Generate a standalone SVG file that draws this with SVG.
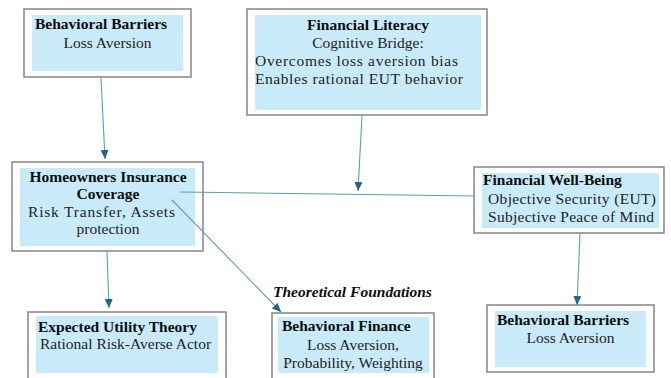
<svg xmlns="http://www.w3.org/2000/svg" width="671" height="378" viewBox="0 0 671 378">
  <defs>
    <marker id="arrow" markerUnits="userSpaceOnUse" markerWidth="9" markerHeight="8" refX="9" refY="4" orient="auto">
      <path d="M0,0 L9,4 L0,8 z" fill="#1f6586"/>
    </marker>
    <style>
      .frame { fill: #ffffff; stroke: #858585; stroke-width: 1.5; }
      .fill { fill: #c9ebf9; stroke: none; }
      .t { font-family: "Liberation Serif", "Times New Roman", serif; font-size: 15.5px; fill: #222222; }
      .b { font-weight: bold; fill: #0d0d0d; }
      .c { text-anchor: middle; }
      .link { stroke: #5d9db7; stroke-width: 1.1; fill: none; }
      .arr { marker-end: url(#arrow); }
    </style>
  </defs>

  <rect width="671" height="378" fill="#ffffff"/>

  <!-- top-left: behavioral barriers -->
  <g id="barriers-top">
    <rect class="frame" x="24" y="9" width="167" height="68"/>
    <rect class="fill" x="32" y="15" width="151" height="56"/>
    <text class="t b" x="35" y="29">Behavioral Barriers</text>
    <text class="t c" x="107.5" y="48">Loss Aversion</text>
  </g>

  <!-- financial literacy -->
  <g id="literacy">
    <rect class="frame" x="247" y="9" width="240" height="106"/>
    <rect class="fill" x="255" y="15" width="226" height="95"/>
    <text class="t b c" x="368" y="30">Financial Literacy</text>
    <text class="t c" x="368" y="48">Cognitive Bridge:</text>
    <text class="t" x="255" y="66" textLength="203" lengthAdjust="spacing">Overcomes loss aversion bias</text>
    <text class="t" x="255" y="84" textLength="208" lengthAdjust="spacing">Enables rational EUT behavior</text>
  </g>

  <!-- homeowners insurance -->
  <g id="insurance">
    <rect class="frame" x="12" y="162" width="191" height="89"/>
    <rect class="fill" x="20" y="168" width="175" height="78"/>
    <text class="t b c" x="108" y="182">Homeowners Insurance</text>
    <text class="t b c" x="108" y="199">Coverage</text>
    <text class="t" x="28" y="217" textLength="147" lengthAdjust="spacing">Risk Transfer, Assets</text>
    <text class="t c" x="108" y="234">protection</text>
  </g>

  <!-- financial well-being -->
  <g id="wellbeing">
    <rect class="frame" x="474" y="167" width="190" height="66"/>
    <rect class="fill" x="482" y="173" width="177" height="55"/>
    <text class="t b" x="483" y="185">Financial Well-Being</text>
    <text class="t" x="488" y="204" textLength="168" lengthAdjust="spacing">Objective Security (EUT)</text>
    <text class="t" x="488" y="222" textLength="166" lengthAdjust="spacing">Subjective Peace of Mind</text>
  </g>

  <!-- expected utility theory -->
  <g id="eut">
    <rect class="frame" x="28" y="312" width="198" height="72"/>
    <rect class="fill" x="36" y="316" width="182" height="57"/>
    <text class="t b" x="38" y="332">Expected Utility Theory</text>
    <text class="t" x="40" y="349">Rational Risk-Averse Actor</text>
  </g>

  <!-- behavioral finance -->
  <g id="finance">
    <text class="t b" x="273" y="297" font-style="italic">Theoretical Foundations</text>
    <rect class="frame" x="272" y="313" width="162" height="72"/>
    <rect class="fill" x="278" y="317" width="151" height="56"/>
    <text class="t b" x="282" y="331">Behavioral Finance</text>
    <text class="t c" x="353" y="350">Loss Aversion,</text>
    <text class="t c" x="353" y="368">Probability, Weighting</text>
  </g>

  <!-- bottom-right: behavioral barriers -->
  <g id="barriers-bottom">
    <rect class="frame" x="487" y="305" width="167" height="67"/>
    <rect class="fill" x="495" y="311" width="151" height="56"/>
    <text class="t b" x="497" y="325">Behavioral Barriers</text>
    <text class="t c" x="570.5" y="343">Loss Aversion</text>
  </g>

  <!-- connectors, drawn over the boxes -->
  <g id="connectors">
    <line class="link arr" x1="101" y1="78" x2="105" y2="159"/>
    <line class="link arr" x1="362" y1="116" x2="358" y2="191"/>
    <line class="link" x1="180" y1="192" x2="474" y2="196"/>
    <line class="link arr" x1="172" y1="200" x2="281" y2="312"/>
    <line class="link arr" x1="580" y1="233" x2="577" y2="305"/>
    <line class="link arr" x1="107" y1="251" x2="109" y2="308"/>
  </g>
</svg>
